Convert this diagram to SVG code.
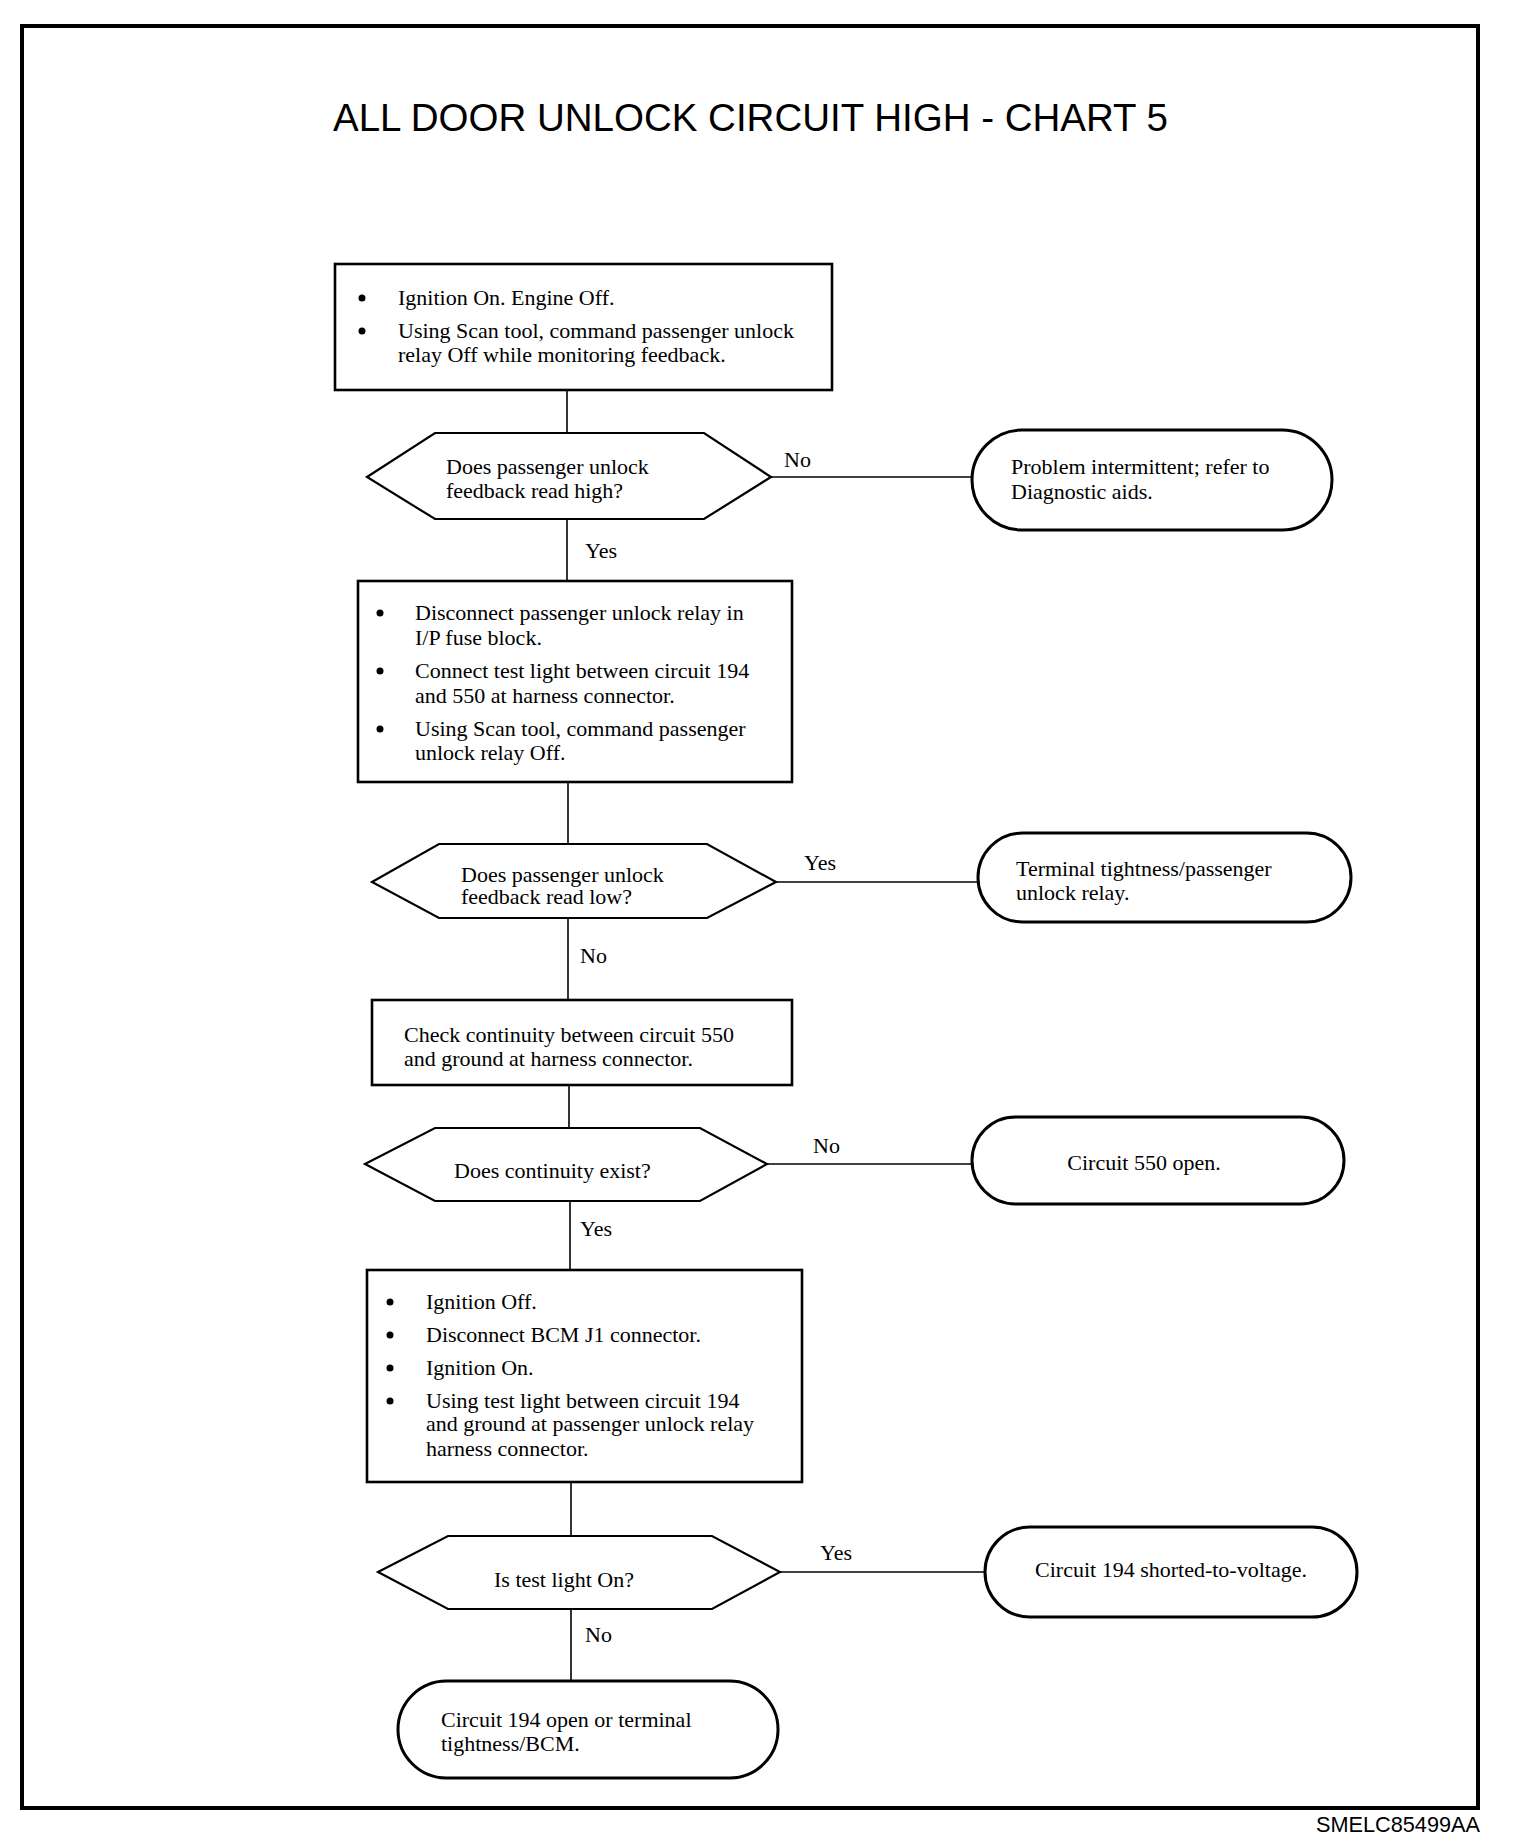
<svg xmlns="http://www.w3.org/2000/svg" width="1520" height="1844" viewBox="0 0 1520 1844">
<style>
.box{fill:#fff;stroke:#000;stroke-width:2.6}
.dec{fill:#fff;stroke:#000;stroke-width:2.2}
.term{fill:#fff;stroke:#000;stroke-width:3}
.t{font-family:"Liberation Serif","Times New Roman",serif;font-size:22px;fill:#000}
.c{stroke:#000;stroke-width:1.6;fill:none}
.b{fill:#000}
</style>
<rect x="0" y="0" width="1520" height="1844" fill="#fff"/>
<rect x="22" y="26" width="1456" height="1782" fill="none" stroke="#000" stroke-width="4"/>
<text x="333" y="131" font-family="'Liberation Sans',Arial,sans-serif" font-size="38.5">ALL DOOR UNLOCK CIRCUIT HIGH - CHART 5</text>
<text x="1316" y="1832" font-family="'Liberation Sans',Arial,sans-serif" font-size="21.7">SMELC85499AA</text>

<g id="connectors">
<line class="c" x1="567" y1="390" x2="567" y2="433"/>
<line class="c" x1="771" y1="477" x2="972" y2="477"/>
<line class="c" x1="567" y1="519" x2="567" y2="581"/>
<line class="c" x1="568" y1="782" x2="568" y2="844"/>
<line class="c" x1="776" y1="882" x2="978" y2="882"/>
<line class="c" x1="568" y1="918" x2="568" y2="1000"/>
<line class="c" x1="569" y1="1085" x2="569" y2="1128"/>
<line class="c" x1="767" y1="1164" x2="972" y2="1164"/>
<line class="c" x1="570" y1="1201" x2="570" y2="1270"/>
<line class="c" x1="571" y1="1482" x2="571" y2="1536"/>
<line class="c" x1="780" y1="1572" x2="985" y2="1572"/>
<line class="c" x1="571" y1="1609" x2="571" y2="1681"/>
<text class="t" x="784" y="467">No</text>
<text class="t" x="585" y="558">Yes</text>
<text class="t" x="804" y="870">Yes</text>
<text class="t" x="580" y="963">No</text>
<text class="t" x="813" y="1153">No</text>
<text class="t" x="580" y="1236">Yes</text>
<text class="t" x="820" y="1560">Yes</text>
<text class="t" x="585" y="1642">No</text>
</g>

<g id="box1">
<rect class="box" x="335" y="264" width="497" height="126"/>
<circle class="b" cx="362" cy="298" r="3.5"/>
<circle class="b" cx="362" cy="331" r="3.5"/>
<text class="t" x="398" y="305">Ignition On. Engine Off.</text>
<text class="t" x="398" y="338">Using Scan tool, command passenger unlock</text>
<text class="t" x="398" y="362">relay Off while monitoring feedback.</text>
</g>

<g id="dec1">
<polygon class="dec" points="367,477 435,433 704,433 771,477 704,519 435,519"/>
<text class="t" x="446" y="474">Does passenger unlock</text>
<text class="t" x="446" y="498">feedback read high?</text>
</g>

<g id="term1">
<rect class="term" x="972" y="430" width="360" height="100" rx="50" ry="50"/>
<text class="t" x="1011" y="474">Problem intermittent; refer to</text>
<text class="t" x="1011" y="499">Diagnostic aids.</text>
</g>

<g id="box2">
<rect class="box" x="358" y="581" width="434" height="201"/>
<circle class="b" cx="380" cy="613" r="3.5"/>
<circle class="b" cx="380" cy="671" r="3.5"/>
<circle class="b" cx="380" cy="729" r="3.5"/>
<text class="t" x="415" y="620">Disconnect passenger unlock relay in</text>
<text class="t" x="415" y="645">I/P fuse block.</text>
<text class="t" x="415" y="678">Connect test light between circuit 194</text>
<text class="t" x="415" y="703">and 550 at harness connector.</text>
<text class="t" x="415" y="736">Using Scan tool, command passenger</text>
<text class="t" x="415" y="760">unlock relay Off.</text>
</g>

<g id="dec2">
<polygon class="dec" points="372,882 439,844 707,844 776,882 707,918 439,918"/>
<text class="t" x="461" y="882">Does passenger unlock</text>
<text class="t" x="461" y="904">feedback read low?</text>
</g>

<g id="term2">
<rect class="term" x="978" y="833" width="373" height="89" rx="44.5" ry="44.5"/>
<text class="t" x="1016" y="876">Terminal tightness/passenger</text>
<text class="t" x="1016" y="900">unlock relay.</text>
</g>

<g id="box3">
<rect class="box" x="372" y="1000" width="420" height="85"/>
<text class="t" x="404" y="1042">Check continuity between circuit 550</text>
<text class="t" x="404" y="1066">and ground at harness connector.</text>
</g>

<g id="dec3">
<polygon class="dec" points="365,1164 435,1128 700,1128 767,1164 700,1201 435,1201"/>
<text class="t" x="454" y="1178">Does continuity exist?</text>
</g>

<g id="term3">
<rect class="term" x="972" y="1117" width="372" height="87" rx="43.5" ry="43.5"/>
<text class="t" x="1144" y="1170" text-anchor="middle">Circuit 550 open.</text>
</g>

<g id="box4">
<rect class="box" x="367" y="1270" width="435" height="212"/>
<circle class="b" cx="390" cy="1302" r="3.5"/>
<circle class="b" cx="390" cy="1335" r="3.5"/>
<circle class="b" cx="390" cy="1368" r="3.5"/>
<circle class="b" cx="390" cy="1401" r="3.5"/>
<text class="t" x="426" y="1309">Ignition Off.</text>
<text class="t" x="426" y="1342">Disconnect BCM J1 connector.</text>
<text class="t" x="426" y="1375">Ignition On.</text>
<text class="t" x="426" y="1408">Using test light between circuit 194</text>
<text class="t" x="426" y="1431">and ground at passenger unlock relay</text>
<text class="t" x="426" y="1456">harness connector.</text>
</g>

<g id="dec4">
<polygon class="dec" points="378,1572 448,1536 712,1536 780,1572 712,1609 448,1609"/>
<text class="t" x="494" y="1587">Is test light On?</text>
</g>

<g id="term4">
<rect class="term" x="985" y="1527" width="372" height="90" rx="45" ry="45"/>
<text class="t" x="1171" y="1577" text-anchor="middle">Circuit 194 shorted-to-voltage.</text>
</g>

<g id="term5">
<rect class="term" x="398" y="1681" width="380" height="97" rx="48.5" ry="48.5"/>
<text class="t" x="441" y="1727">Circuit 194 open or terminal</text>
<text class="t" x="441" y="1751">tightness/BCM.</text>
</g>
</svg>
